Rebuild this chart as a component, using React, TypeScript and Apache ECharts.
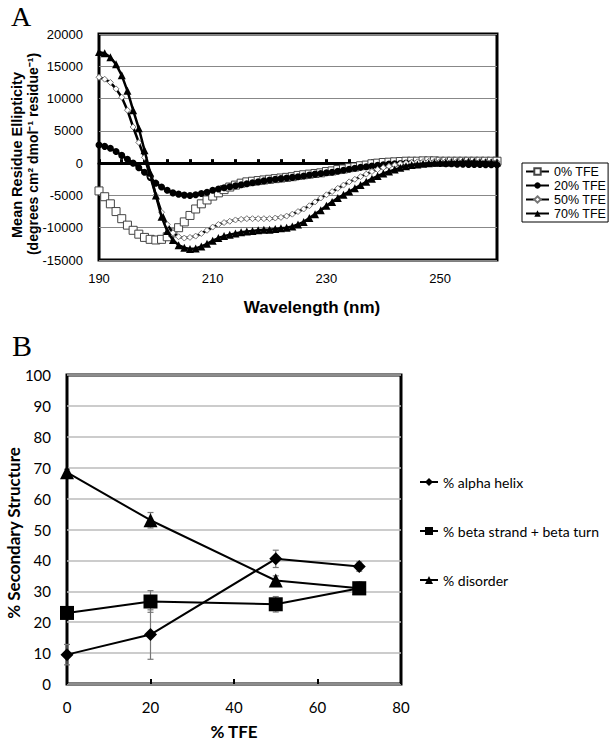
import React, { useEffect, useRef } from 'react';
import * as echarts from 'echarts';

// ---------- Panel A data ----------
const wavelengths = [
  190, 191, 192, 193, 194, 195, 196, 197, 198, 199,
  200, 201, 202, 203, 204, 205, 206, 207, 208, 209,
  210, 211, 212, 213, 214, 215, 216, 217, 218, 219,
  220, 221, 222, 223, 224, 225, 226, 227, 228, 229,
  230, 231, 232, 233, 234, 235, 236, 237, 238, 239,
  240, 241, 242, 243, 244, 245, 246, 247, 248, 249,
  250, 251, 252, 253, 254, 255, 256, 257, 258, 259, 260,
];

const tfe0 = [
  -4300, -5200, -6300, -7500, -8600, -9600, -10400, -11000, -11500, -11800,
  -11900, -11800, -11400, -10800, -10000, -9100, -8100, -7100, -6300, -5700,
  -5100, -4600, -4100, -3700, -3400, -3100, -2900, -2800, -2700, -2600,
  -2500, -2400, -2300, -2200, -2100, -1900, -1800, -1700, -1600, -1500,
  -1300, -1200, -1000, -900, -700, -600, -400, -300, -100, 0,
  100, 150, 200, 250, 300, 300, 300, 350, 350, 350,
  300, 300, 300, 300, 300, 300, 300, 300, 300, 300, 300,
];

const tfe20 = [
  2800, 2600, 2300, 1800, 1200, 600, 0, -700, -1400, -2200,
  -3100, -3700, -4200, -4600, -4800, -4950, -5000, -4900, -4700, -4500,
  -4200, -4000, -3800, -3650, -3500, -3350, -3200, -3050, -2900, -2750,
  -2600, -2500, -2400, -2300, -2200, -2100, -2000, -1850, -1700, -1600,
  -1500, -1400, -1250, -1100, -950, -800, -650, -550, -450, -350,
  -250, -150, -100, -50, 0, 0, 0, 0, 0, 0,
  -50, -100, -100, -150, -150, -200, -200, -200, -250, -250, -250,
];

const tfe50 = [
  13300, 13000, 12500, 11500, 10200, 8200, 5600, 3200, 900, -2000,
  -5000, -7600, -9500, -10800, -11400, -11600, -11500, -11300, -10900, -10400,
  -9900, -9500, -9200, -9000, -8800, -8700, -8600, -8600, -8600, -8600,
  -8600, -8500, -8400, -8200, -7900, -7500, -7100, -6600, -6000, -5400,
  -4900, -4400, -3900, -3400, -2900, -2500, -2100, -1700, -1300, -1000,
  -700, -500, -300, -100, 0, 100, 200, 250, 300, 300,
  300, 300, 300, 300, 300, 300, 250, 250, 200, 200, 200,
];

const tfe70 = [
  17200, 17000, 16400, 15300, 13600, 11200, 8200, 5400, 2000, -1500,
  -5000, -8300, -10500, -11900, -12700, -13100, -13300, -13200, -12900, -12500,
  -12000, -11600, -11300, -11100, -10900, -10700, -10600, -10500, -10400, -10300,
  -10300, -10200, -10100, -10000, -9800, -9500, -9100, -8500, -7900, -7300,
  -6600, -6000, -5400, -4900, -4400, -3900, -3400, -2900, -2400, -2000,
  -1600, -1300, -1000, -700, -500, -300, -200, -100, 0, 50,
  100, 100, 150, 150, 200, 200, 200, 150, 150, 100, 100,
];

const seriesNamesA = ['0% TFE', '20% TFE', '50% TFE', '70% TFE'];
const yTicksA = { min: -15000, max: 20000, interval: 5000 };

// ---------- Panel B data ----------
const tfePercent = [0, 20, 50, 70];
const alphaHelix = [9.5, 16, 40.5, 38];
const alphaHelixErr = [3.3, 8, 2.8, 1.5];
const betaStrandTurn = [23, 26.7, 25.8, 31];
const betaStrandTurnErr = [1, 3.5, 2.5, 2];
const disorder = [68.5, 53, 33.5, 31];
const disorderErr = [1, 2.5, 1.5, 1.5];
const seriesNamesB = ['% alpha helix', '% beta strand + beta turn', '% disorder'];

const FA = 'Liberation Sans, Arial, sans-serif';
const FB = 'Lato, "Open Sans", sans-serif';

function errorSeries(name: string, xs: number[], ys: number[], es: number[]) {
  return {
    type: 'custom',
    name: name + ' err',
    xAxisIndex: 2,
    yAxisIndex: 1,
    z: 1,
    data: xs.map((x, i) => [x, ys[i], es[i]]),
    renderItem: (params: any, api: any) => {
      const x = api.value(0);
      const y = api.value(1);
      const e = api.value(2);
      const top = api.coord([x, y + e]);
      const bot = api.coord([x, y - e]);
      const st = { stroke: '#777', lineWidth: 1.2 };
      return {
        type: 'group',
        children: [
          { type: 'line', shape: { x1: top[0], y1: top[1], x2: bot[0], y2: bot[1] }, style: st },
          { type: 'line', shape: { x1: top[0] - 3, y1: top[1], x2: top[0] + 3, y2: top[1] }, style: st },
          { type: 'line', shape: { x1: bot[0] - 3, y1: bot[1], x2: bot[0] + 3, y2: bot[1] }, style: st },
        ],
      };
    },
  };
}

export default function App() {
  const ref = useRef<HTMLDivElement>(null);
  useEffect(() => {
    const chart = echarts.init(ref.current!, null, { renderer: 'svg' });
    const lineA = (name: string, data: number[], symbol: string, size: number, item: any, z: number) => ({
      type: 'line',
      name,
      xAxisIndex: 0,
      yAxisIndex: 0,
      data,
      symbol,
      symbolSize: size,
      showSymbol: true,
      showAllSymbol: true,
      z,
      lineStyle: { color: '#000', width: 2.5 },
      itemStyle: item,
    });
    const lineB = (name: string, data: number[], symbol: string, size: number) => ({
      type: 'line',
      name,
      xAxisIndex: 2,
      yAxisIndex: 1,
      data: tfePercent.map((x, i) => [x, data[i]]),
      symbol,
      symbolSize: size,
      z: 3,
      lineStyle: { color: '#000', width: 2 },
      itemStyle: { color: '#000' },
    });
    const option: any = {
      animation: false,
      backgroundColor: '#fff',
      grid: [
        { left: 99, top: 34, width: 398, height: 226, show: true, borderColor: '#000', borderWidth: 3, backgroundColor: 'transparent' },
        { left: 67, top: 375, width: 334, height: 309, show: true, borderColor: '#000', borderWidth: 3, backgroundColor: 'transparent' },
      ],
      xAxis: [
        {
          gridIndex: 0, type: 'category', data: wavelengths, boundaryGap: false, position: 'bottom',
          axisLine: { show: false, onZero: false }, axisTick: { show: false },
          axisLabel: { interval: 19, color: '#000', fontSize: 13, fontFamily: FA, margin: 12 },
          splitLine: { show: false },
        },
        {
          gridIndex: 0, type: 'category', data: wavelengths, boundaryGap: false, position: 'top',
          axisLine: { show: true, onZero: true, lineStyle: { color: '#000', width: 3 } },
          axisTick: { show: true, interval: 3, length: 4, lineStyle: { color: '#000', width: 3 } },
          axisLabel: { show: false },
          splitLine: { show: false },
        },
        {
          gridIndex: 1, type: 'value', min: 0, max: 80, interval: 20,
          axisLine: { show: false, onZero: false },
          axisTick: { show: true, inside: true, length: 5, lineStyle: { color: '#000', width: 2 } },
          axisLabel: { color: '#000', fontSize: 15, fontFamily: FB, margin: 15 },
          splitLine: { show: false },
        },
      ],
      yAxis: [
        {
          gridIndex: 0, type: 'value', min: yTicksA.min, max: yTicksA.max, interval: yTicksA.interval,
          axisLine: { show: false }, axisTick: { show: false },
          axisLabel: { color: '#000', fontSize: 13, fontFamily: FA, margin: 16, formatter: (v: number) => String(v) },
          splitLine: { show: true, lineStyle: { color: '#888', width: 1 } },
        },
        {
          gridIndex: 1, type: 'value', min: 0, max: 100, interval: 10,
          axisLine: { show: false }, axisTick: { show: false },
          axisLabel: { color: '#000', fontSize: 15, fontFamily: FB, margin: 16 },
          splitLine: { show: true, lineStyle: { color: '#bbb', width: 1.5 } },
        },
      ],
      legend: [
        {
          data: seriesNamesA,
          orient: 'vertical', left: 522, top: 163,
          itemWidth: 23, itemHeight: 8, itemGap: 1,
          padding: [2, 2, 2, 3],
          borderColor: '#000', borderWidth: 1,
          textStyle: { color: '#000', fontSize: 12.5, fontFamily: FA },
          selectedMode: false,
        },
        {
          data: seriesNamesB,
          orient: 'vertical', left: 414, top: 470,
          itemWidth: 18, itemHeight: 10, itemGap: 35,
          textStyle: { color: '#000', fontSize: 14, fontFamily: FB },
          selectedMode: false,
        },
      ],
      graphic: [
        { type: 'text', x: 21, y: 16, style: { text: 'A', font: '28px "Liberation Serif", "Times New Roman", serif', fill: '#000', align: 'center', verticalAlign: 'middle' } },
        { type: 'text', x: 22, y: 345, style: { text: 'B', font: '30px "Liberation Serif", "Times New Roman", serif', fill: '#000', align: 'center', verticalAlign: 'middle' } },
        { type: 'text', x: 17, y: 155, rotation: Math.PI / 2, style: { text: 'Mean Residue Ellipticity', font: 'bold 14.5px ' + FA, fill: '#000', align: 'center', verticalAlign: 'middle' } },
        { type: 'text', x: 33, y: 154, rotation: Math.PI / 2, style: { text: '(degrees cm² dmol⁻¹ residue⁻¹)', font: 'bold 14px ' + FA, fill: '#000', align: 'center', verticalAlign: 'middle' } },
        { type: 'text', x: 312, y: 307, style: { text: 'Wavelength (nm)', font: 'bold 17px ' + FA, fill: '#000', align: 'center', verticalAlign: 'middle' } },
        { type: 'text', x: 13, y: 533, rotation: Math.PI / 2, style: { text: '% Secondary Structure', font: 'bold 17px ' + FB, fill: '#000', align: 'center', verticalAlign: 'middle' } },
        { type: 'text', x: 234, y: 731, style: { text: '% TFE', font: 'bold 17px ' + FB, fill: '#000', align: 'center', verticalAlign: 'middle' } },
      ],
      series: [
        lineA(seriesNamesA[0], tfe0, 'rect', 8, { color: '#fff', borderColor: '#444', borderWidth: 1 }, 2),
        lineA(seriesNamesA[1], tfe20, 'circle', 7, { color: '#000' }, 3),
        lineA(seriesNamesA[2], tfe50, 'diamond', 6, { color: '#fff', borderColor: '#777', borderWidth: 1 }, 4),
        lineA(seriesNamesA[3], tfe70, 'triangle', 8, { color: '#000' }, 5),
        errorSeries('helix', tfePercent, alphaHelix, alphaHelixErr),
        errorSeries('beta', tfePercent, betaStrandTurn, betaStrandTurnErr),
        errorSeries('disorder', tfePercent, disorder, disorderErr),
        lineB(seriesNamesB[0], alphaHelix, 'diamond', 13),
        lineB(seriesNamesB[1], betaStrandTurn, 'rect', 14),
        lineB(seriesNamesB[2], disorder, 'triangle', 14),
      ],
    };
    chart.setOption(option);
    return () => chart.dispose();
  }, []);
  return <div ref={ref} style={{ position: 'absolute', left: 0, top: 0, width: 610, height: 740, background: '#fff' }} />;
}
